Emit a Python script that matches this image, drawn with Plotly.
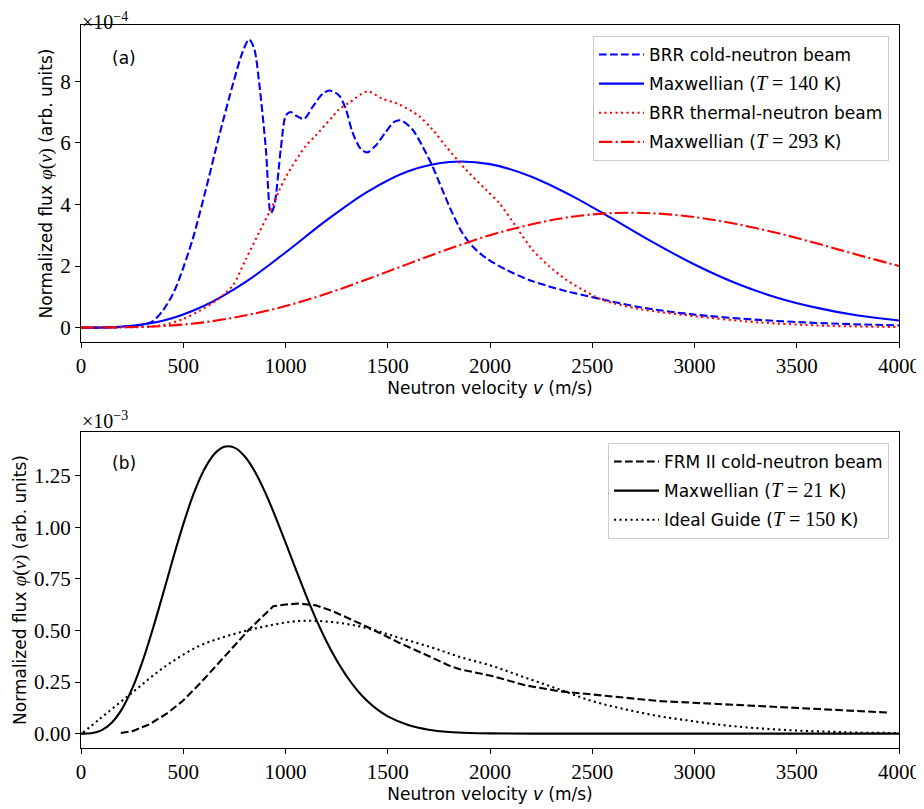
import plotly.graph_objects as go

# ---------------- Panel (a) data (flux in units of 1e-4) ----------------
v_grid_a = [0, 200, 400, 600, 800, 1000, 1200, 1400, 1600, 1800, 2000,
            2200, 2400, 2600, 2800, 3000, 3200, 3400, 3600, 3800, 4000]
maxw140 = [0, 0.03, 0.22, 0.70, 1.46, 2.44, 3.48, 4.41, 5.08, 5.38, 5.31,
           4.91, 4.28, 3.53, 2.76, 2.05, 1.45, 0.98, 0.64, 0.39, 0.23]
maxw293 = [0, 0.01, 0.05, 0.17, 0.39, 0.70, 1.10, 1.57, 2.07, 2.56, 3.00,
           3.35, 3.60, 3.72, 3.71, 3.59, 3.37, 3.08, 2.73, 2.36, 2.00]

brr_cold_v = [0, 100, 200, 300, 350, 400, 450, 480, 546, 611, 676, 741, 790,
              822, 847, 871, 904, 928, 945, 977, 1002, 1026, 1050, 1091,
              1132, 1181, 1215, 1262, 1295, 1327, 1368, 1400, 1441, 1490,
              1531, 1565, 1620, 1669, 1718, 1766, 1815, 1864, 1913, 1978,
              2076, 2206, 2369, 2532, 2743, 2988, 3313, 3639, 4000]
brr_cold = [0, 0.0, 0.02, 0.09, 0.2, 0.55, 1.1, 1.57, 2.87, 4.5, 6.24, 7.86,
            8.95, 9.36, 9.06, 7.97, 5.8, 3.72, 3.96, 5.8, 6.89, 7.0, 6.89,
            6.78, 7.16, 7.59, 7.7, 7.54, 7.1, 6.35, 5.8, 5.69, 5.91, 6.35,
            6.68, 6.73, 6.44, 5.90, 5.25, 4.49, 3.73, 3.08, 2.65, 2.27,
            1.89, 1.51, 1.19, 0.94, 0.65, 0.43, 0.25, 0.14, 0.07]

brr_therm_v = [0, 200, 300, 400, 497, 578, 660, 741, 806, 871, 936, 969,
               1002, 1099, 1148, 1230, 1262, 1311, 1400, 1474, 1555, 1653,
               1718, 1783, 1881, 1978, 2043, 2125, 2206, 2288, 2369, 2450,
               2532, 2600, 2743, 2988, 3313, 3639, 4000]
brr_therm = [0, 0.01, 0.02, 0.08, 0.27, 0.54, 0.87, 1.36, 2.22, 3.09, 3.95,
             4.45, 4.9, 5.9, 6.24, 6.85, 7.09, 7.3, 7.67, 7.43, 7.25, 6.87,
             6.44, 5.90, 5.14, 4.49, 4.06, 3.30, 2.54, 2.0, 1.57, 1.24,
             0.95, 0.8, 0.59, 0.38, 0.17, 0.06, 0.02]

# ---------------- Panel (b) data (flux in units of 1e-3) ----------------
maxw21_v = [0, 50, 100, 150, 200, 250, 300, 350, 400, 450, 500, 550, 600,
            650, 700, 750, 800, 850, 900, 950, 1000, 1050, 1100, 1150, 1200,
            1250, 1300, 1350, 1400, 1450, 1500, 1600, 1700, 1800, 1900, 2000,
            2200, 2500, 3000, 3500, 4000]
maxw21 = [0, 0.002, 0.016, 0.053, 0.119, 0.218, 0.348, 0.504, 0.674, 0.849,
          1.015, 1.161, 1.276, 1.354, 1.391, 1.387, 1.345, 1.271, 1.171,
          1.054, 0.927, 0.798, 0.672, 0.554, 0.448, 0.356, 0.277, 0.211,
          0.158, 0.116, 0.084, 0.042, 0.019, 0.008, 0.003, 0.001, 0.0, 0.0,
          0.0, 0.0, 0.0]

frm_v = [195, 252, 334, 415, 497, 578, 660, 741, 822, 880, 940, 1000, 1067,
         1148, 1230, 1393, 1555, 1718, 1800, 1849, 2011, 2174, 2337, 2499,
         2662, 2825, 3151, 3476, 3802, 3950]
frm = [0.003, 0.012, 0.045, 0.094, 0.158, 0.239, 0.328, 0.417, 0.505, 0.560,
       0.618, 0.626, 0.631, 0.622, 0.594, 0.521, 0.441, 0.368, 0.33, 0.313,
       0.279, 0.234, 0.206, 0.190, 0.174, 0.158, 0.142, 0.126, 0.110, 0.102]

guide_v = [10, 90, 252, 415, 578, 741, 904, 1067, 1230, 1393, 1555, 1718,
           1849, 2011, 2174, 2337, 2499, 2662, 2825, 2988, 3151, 3313, 3476,
           3639, 3802, 4000]
guide = [0.005, 0.07, 0.2, 0.328, 0.425, 0.481, 0.521, 0.546, 0.541, 0.513,
         0.465, 0.417, 0.373, 0.328, 0.271, 0.215, 0.158, 0.118, 0.085,
         0.061, 0.040, 0.026, 0.016, 0.010, 0.005, 0.003]

x_ticks = [0, 500, 1000, 1500, 2000, 2500, 3000, 3500, 4000]
ya_ticks = [0, 2, 4, 6, 8]
yb_ticks = [0, 0.25, 0.5, 0.75, 1.0, 1.25]

# ---------------- styling ----------------
SANS = "DejaVu Sans"
SERIF = "Liberation Serif"
LW = 2.1
DASH = "7.7px,3.3px"
DOT = "2.1px,3.4px"
DASHDOT = "13.3px,3.3px,2.1px,3.3px"


def mathT(val):
    return ("<span style='font-family:%s;font-size:20px'><i>T</i> = %s</span>"
            % (SERIF, val))


fig = go.Figure()

fig.add_trace(go.Scatter(x=brr_cold_v, y=brr_cold, mode="lines",
                         name="BRR cold-neutron beam", legend="legend",
                         legendgroup="a1",
                         line=dict(color="#0000ff", width=LW, dash=DASH,
                                   shape="spline", smoothing=0.8),
                         xaxis="x", yaxis="y"))
fig.add_trace(go.Scatter(x=v_grid_a, y=maxw140, mode="lines",
                         name="Maxwellian (" + mathT("140") + " K)",
                         legend="legend", legendgroup="a2",
                         line=dict(color="#0000ff", width=LW, shape="spline"),
                         xaxis="x", yaxis="y"))
fig.add_trace(go.Scatter(x=brr_therm_v, y=brr_therm, mode="lines",
                         name="BRR thermal-neutron beam", legend="legend",
                         legendgroup="a3",
                         line=dict(color="#ff0000", width=LW, dash=DOT,
                                   shape="spline", smoothing=0.8),
                         xaxis="x", yaxis="y"))
fig.add_trace(go.Scatter(x=v_grid_a, y=maxw293, mode="lines",
                         name="Maxwellian (" + mathT("293") + " K)",
                         legend="legend", legendgroup="a4",
                         line=dict(color="#ff0000", width=LW, dash=DASHDOT,
                                   shape="spline"),
                         xaxis="x", yaxis="y"))

fig.add_trace(go.Scatter(x=frm_v, y=frm, mode="lines",
                         name="FRM II cold-neutron beam", legend="legend2",
                         legendgroup="b1",
                         line=dict(color="black", width=LW, dash=DASH,
                                   shape="linear"),
                         xaxis="x2", yaxis="y2"))
fig.add_trace(go.Scatter(x=maxw21_v, y=maxw21, mode="lines",
                         name="Maxwellian (" + mathT("21") + " K)",
                         legend="legend2", legendgroup="b2",
                         line=dict(color="black", width=LW, shape="spline"),
                         xaxis="x2", yaxis="y2"))
fig.add_trace(go.Scatter(x=guide_v, y=guide, mode="lines",
                         name="Ideal Guide (" + mathT("150") + " K)",
                         legend="legend2", legendgroup="b3",
                         line=dict(color="black", width=LW, dash=DOT,
                                   shape="spline"),
                         xaxis="x2", yaxis="y2"))

# The page body has an 8px margin, so the figure is 8px smaller and the
# left/top margins are reduced by 8px; page-pixel targets below.
OFF = 8
W, H = 924 - OFF, 809 - OFF
PL, PR, PT, PB = 81, 899, 25, 748          # plot area in page pixels
ml, mr, mt, mb = PL - OFF, 924 - PR, PT - OFF, 809 - PB
ph = PB - PT
pw = PR - PL


def fy(page_y):
    return (PB - page_y) / ph


def fx(page_x):
    return (page_x - PL) / pw


top_dom = [fy(342), 1.0]
bot_dom = [0.0, fy(432)]
top_h = 342 - 25
bot_h = 748 - 432

axis_common = dict(showline=True, linecolor="black", linewidth=1.2,
                   mirror=True, ticks="outside", ticklen=5, tickwidth=1,
                   tickcolor="black", showgrid=False, zeroline=False,
                   automargin=False,
                   tickfont=dict(family=SERIF, size=21, color="black"))

xtitle = dict(text="Neutron velocity <i>v</i> (m/s)",
              font=dict(family=SANS, size=17, color="black"), standoff=3)
ytitle = dict(text="Normalized flux <span style='font-family:%s;font-size:19px'><i>φ</i>(<i>v</i>)</span> (arb. units)" % SERIF,
              font=dict(family=SANS, size=17, color="black"), standoff=3)

legend_common = dict(xanchor="right", yanchor="top",
                     bgcolor="rgba(255,255,255,0.8)", bordercolor="#cccccc",
                     borderwidth=1,
                     font=dict(family=SANS, size=17, color="black"),
                     traceorder="grouped", tracegroupgap=4, itemwidth=45)

fig.update_layout(
    template="none",
    width=W, height=H,
    margin=dict(l=ml, r=mr, t=mt, b=mb, autoexpand=False),
    paper_bgcolor="white", plot_bgcolor="white",
    xaxis=dict(axis_common, domain=[0, 1], range=[0, 4000],
               tickvals=x_ticks, anchor="y", title=xtitle),
    yaxis=dict(axis_common, domain=top_dom, range=[-0.468, 9.828],
               tickvals=ya_ticks, anchor="x", title=ytitle),
    xaxis2=dict(axis_common, domain=[0, 1], range=[0, 4000],
                tickvals=x_ticks, anchor="y2", title=xtitle),
    yaxis2=dict(axis_common, domain=bot_dom, range=[-0.0697, 1.4627],
                tickvals=yb_ticks, tickformat=".2f", anchor="x2",
                title=ytitle),
    legend=dict(legend_common, x=fx(889), y=fy(36)),
    legend2=dict(legend_common, x=fx(889), y=fy(443)),
    showlegend=True,
)

annots = [
    dict(text="×10<sup>−4</sup>", xref="x domain", yref="y domain", x=0,
         y=1 + (25 - 8) / top_h, xanchor="left", yanchor="top",
         showarrow=False, borderpad=0,
         font=dict(family=SERIF, size=20, color="black")),
    dict(text="×10<sup>−3</sup>", xref="x2 domain", yref="y2 domain", x=0,
         y=1 + (432 - 407) / bot_h, xanchor="left", yanchor="top",
         showarrow=False, borderpad=0,
         font=dict(family=SERIF, size=20, color="black")),
    dict(text="(a)", xref="x domain", yref="y domain", x=0.035, y=0.896,
         xanchor="left", yanchor="middle", showarrow=False,
         font=dict(family=SANS, size=17, color="black")),
    dict(text="(b)", xref="x2 domain", yref="y2 domain", x=0.035, y=0.902,
         xanchor="left", yanchor="middle", showarrow=False,
         font=dict(family=SANS, size=17, color="black")),
]
fig.update_layout(annotations=annots)

fig.write_html("out.html")
